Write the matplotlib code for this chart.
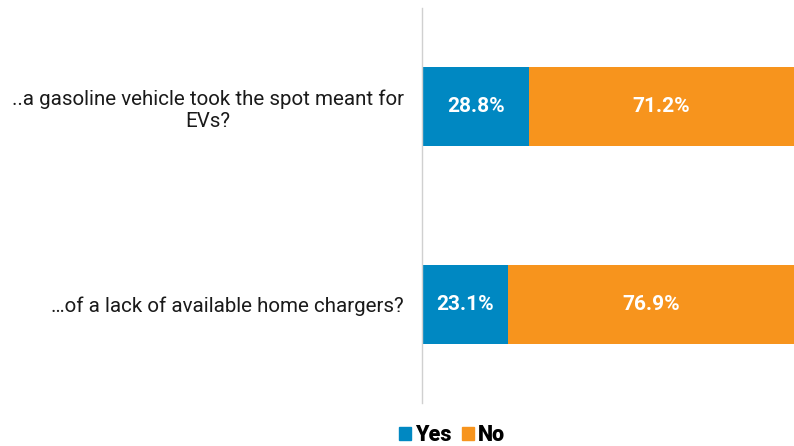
import matplotlib
matplotlib.use("Agg")
import matplotlib.pyplot as plt
from matplotlib.patches import Patch

categories = ["..a gasoline vehicle took the spot meant for\nEVs?",
              "…of a lack of available home chargers?"]
yes_vals = [28.8, 23.1]
no_vals = [71.2, 76.9]
series_names = ["Yes", "No"]
colors = ["#0088C2", "#F7941D"]

plt.rcParams["font.family"] = ["Roboto", "DejaVu Sans"]

fig = plt.figure(figsize=(7.94, 4.46), dpi=100)
ax = fig.add_axes([422 / 794, 43 / 446, 1 - 422 / 794, 395 / 446])

ypos = list(range(len(categories)))
ax.barh(ypos, yes_vals, height=0.4, color=colors[0])
ax.barh(ypos, no_vals, left=yes_vals, height=0.4, color=colors[1])

for y, a, b in zip(ypos, yes_vals, no_vals):
    ax.text(a / 2, y, f"{a:.1f}%", ha="center", va="center", color="white",
            fontsize=15, fontweight="bold")
    ax.text(a + b / 2, y, f"{b:.1f}%", ha="center", va="center", color="white",
            fontsize=15, fontweight="bold")

ax.set_xlim(0, 100)
ax.set_ylim(1.5, -0.5)
ax.set_yticks(ypos)
ax.set_yticklabels(categories, fontsize=14.8, color="#1a1a1a", multialignment="center")
ax.tick_params(axis="y", length=0, pad=13)
ax.set_xticks([])
for s in ["top", "right", "bottom"]:
    ax.spines[s].set_visible(False)
ax.spines["left"].set_color("#d0d0d0")
ax.spines["left"].set_linewidth(1)

handles = [Patch(color=c, label=n) for c, n in zip(colors, series_names)]
fig.legend(handles=handles, loc="center", bbox_to_anchor=(452 / 794, 1 - 435 / 446),
           ncol=2, frameon=False, prop={"weight": "black", "size": 15.5},
           handlelength=0.55, handleheight=0.55, handletextpad=0.2, columnspacing=0.5,
           borderpad=0)

fig.savefig("out.png", dpi=100)
